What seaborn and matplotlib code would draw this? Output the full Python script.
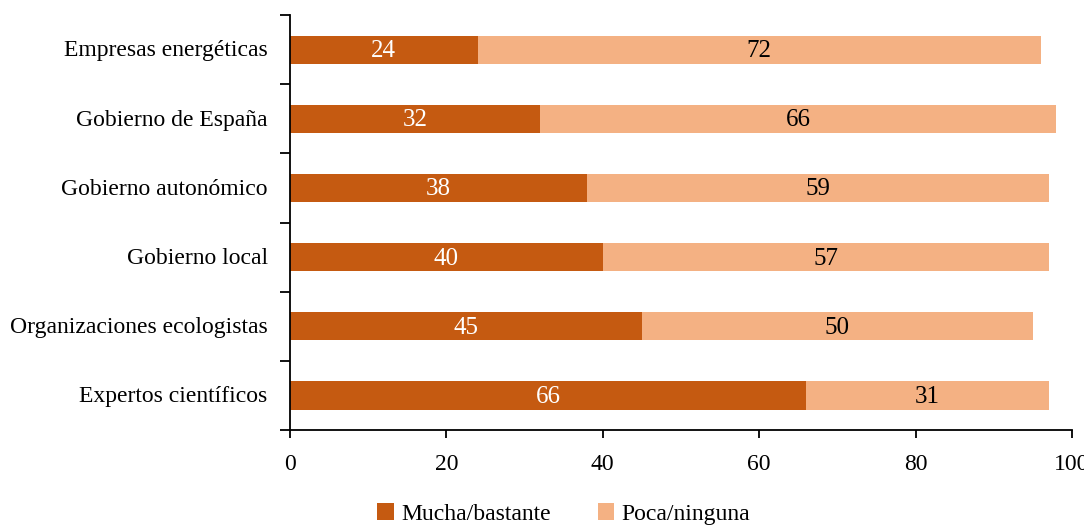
import numpy as np
import pandas as pd
import matplotlib
matplotlib.use("Agg")
import matplotlib.pyplot as plt
import seaborn as sns
from matplotlib.patches import Patch

categories = [
    "Empresas energéticas",
    "Gobierno de España",
    "Gobierno autonómico",
    "Gobierno local",
    "Organizaciones ecologistas",
    "Expertos científicos",
]
mucha = [24, 32, 38, 40, 45, 66]
poca = [72, 66, 59, 57, 50, 31]
series_names = ["Mucha/bastante", "Poca/ninguna"]
x_ticks = [0, 20, 40, 60, 80, 100]

DARK = "#C55A11"
LIGHT = "#F4B183"
FS = 17

sns.set_theme(style="white")
plt.rcParams["font.family"] = ["Liberation Serif", "DejaVu Serif"]
plt.rcParams["text.color"] = "black"
plt.rcParams["xtick.color"] = "black"
plt.rcParams["ytick.color"] = "black"

df = pd.DataFrame({"cat": categories, "mucha": mucha, "poca": poca})
df["total"] = df["mucha"] + df["poca"]

fig = plt.figure(figsize=(10.84, 5.25), dpi=100)
ax = fig.add_axes([0.2675, 0.181, 0.7215, 0.790])

# Stacked bars: full length in the light colour, first segment overlaid in dark
sns.barplot(data=df, y="cat", x="total", orient="h", color=LIGHT,
            saturation=1, width=0.41, linewidth=0, ax=ax)
sns.barplot(data=df, y="cat", x="mucha", orient="h", color=DARK,
            saturation=1, width=0.41, linewidth=0, ax=ax)

for i, (m, p) in enumerate(zip(mucha, poca)):
    ax.text(m / 2, i + 0.02, str(m), ha="center", va="center", color="white", fontsize=18)
    ax.text(m + p / 2, i + 0.02, str(p), ha="center", va="center", color="black", fontsize=18)

ax.set_xlim(0, 100)
ax.set_ylim(len(categories) - 0.5, -0.5)
ax.set_xticks(x_ticks)
ax.set_xticklabels([str(t) for t in x_ticks], fontsize=FS)

# Category labels centred on bars, tick marks on the category boundaries
ax.set_yticks(np.arange(len(categories) + 1) - 0.5)
ax.set_yticklabels([""] * (len(categories) + 1))
ax.set_yticks(np.arange(len(categories)) - 0.02, minor=True)
ax.set_yticklabels(categories, minor=True, fontsize=FS)
ax.tick_params(axis="y", which="minor", length=0, pad=16)
ax.tick_params(axis="y", which="major", length=7, width=1.3, left=True)
ax.tick_params(axis="x", which="major", length=6, width=1.3, bottom=True, pad=11)

ax.set_xlabel("")
ax.set_ylabel("")
for side in ["top", "right"]:
    ax.spines[side].set_visible(False)
for side in ["left", "bottom"]:
    ax.spines[side].set_color("black")
    ax.spines[side].set_linewidth(1.3)

handles = [Patch(facecolor=DARK, edgecolor="none"), Patch(facecolor=LIGHT, edgecolor="none")]
fig.legend(handles, series_names, loc="lower center", bbox_to_anchor=(0.52, -0.04),
           ncol=2, frameon=False, fontsize=FS, handlelength=0.7, handleheight=0.7,
           handletextpad=0.3, columnspacing=2.0)

fig.savefig("out.png", dpi=100)
